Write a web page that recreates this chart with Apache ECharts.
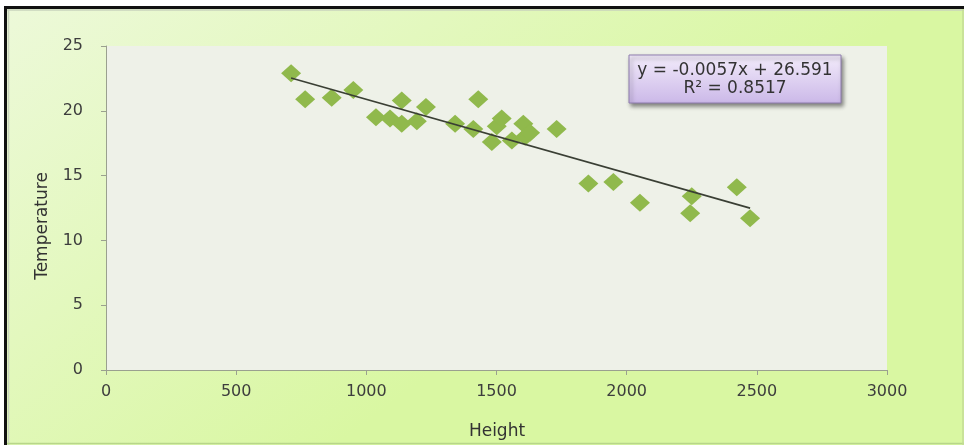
<!DOCTYPE html>
<html>
<head>
<meta charset="utf-8">
<title>Temperature vs Height</title>
<script src="https://cdn.jsdelivr.net/npm/echarts@6/dist/echarts.min.js"></script>
<style>
  html, body { margin: 0; padding: 0; background: #ffffff; }
  #chart { width: 964px; height: 445px; }
</style>
</head>
<body>
<div id="chart"></div>
<script>
// Observed heights and temperatures
const heights = [711, 765, 867, 950, 1037, 1091, 1136, 1136, 1194, 1229, 1341, 1411, 1430, 1482,
                 1501, 1520, 1559, 1603, 1610, 1629, 1731, 1853, 1949, 2051, 2244, 2250, 2423, 2474];
const temperatures = [22.9, 20.9, 21.0, 21.6, 19.5, 19.4, 20.8, 19.0, 19.2, 20.3, 19.0, 18.6, 20.9, 17.6,
                      18.8, 19.4, 17.7, 19.0, 18.0, 18.3, 18.6, 14.4, 14.5, 12.9, 12.1, 13.4, 14.1, 11.7];

// Linear trendline fit
const slope = -0.0057;
const intercept = 26.591;
const rSquared = 0.8517;

// Axis ranges
const xAxisRange = { min: 0, max: 3000, interval: 500 };
const yAxisRange = { min: 0, max: 25, interval: 5 };

const points = heights.map((h, i) => [h, temperatures[i]]);
const xFirst = Math.min(...heights);
const xLast = Math.max(...heights);
const trend = [[xFirst, slope * xFirst + intercept], [xLast, slope * xLast + intercept]];

const FONT = 'DejaVu Sans';
const chart = echarts.init(document.getElementById('chart'));

chart.setOption({
  animation: false,
  backgroundColor: new echarts.graphic.LinearGradient(0, 0, 0.35, 1, [
    { offset: 0, color: '#edf9da' },
    { offset: 1, color: '#d9f7a2' }
  ]),
  grid: {
    left: 106, right: 77, top: 46, bottom: 75,
    show: true, backgroundColor: '#eef1e8', borderWidth: 0
  },
  xAxis: {
    type: 'value',
    min: xAxisRange.min, max: xAxisRange.max, interval: xAxisRange.interval,
    splitLine: { show: false },
    axisLine: { show: true, onZero: false, lineStyle: { color: '#9aa08f', width: 1 } },
    axisTick: { show: true, length: 5, lineStyle: { color: '#9aa08f' } },
    axisLabel: { color: '#3d3d3d', fontFamily: FONT, fontSize: 16, margin: 14, formatter: v => String(v) }
  },
  yAxis: {
    type: 'value',
    min: yAxisRange.min, max: yAxisRange.max, interval: yAxisRange.interval,
    splitLine: { show: false },
    axisLine: { show: true, lineStyle: { color: '#9aa08f', width: 1 } },
    axisTick: { show: true, length: 5, lineStyle: { color: '#9aa08f' } },
    axisLabel: { color: '#3d3d3d', fontFamily: FONT, fontSize: 16, margin: 23, formatter: v => String(v) }
  },
  series: [
    {
      name: 'Temperature',
      type: 'scatter',
      data: points,
      symbol: 'diamond',
      symbolSize: [20, 18],
      itemStyle: { color: '#90b94c', opacity: 1 },
      z: 3
    },
    {
      name: 'Linear trend',
      type: 'line',
      data: trend,
      symbol: 'none',
      lineStyle: { color: '#3a3f34', width: 1.6 },
      z: 4
    }
  ],
  graphic: [
    // white margin and dark frame on the top and left edges
    { type: 'rect', shape: { x: 0, y: 0, width: 964, height: 6 }, style: { fill: '#ffffff' }, z: 50 },
    { type: 'rect', shape: { x: 0, y: 0, width: 4, height: 445 }, style: { fill: '#ffffff' }, z: 50 },
    { type: 'line', shape: { x1: 4, y1: 7.5, x2: 964, y2: 7.5 }, style: { stroke: '#111111', lineWidth: 3 }, z: 51 },
    { type: 'line', shape: { x1: 5.5, y1: 6, x2: 5.5, y2: 445 }, style: { stroke: '#111111', lineWidth: 3 }, z: 51 },
    { type: 'line', shape: { x1: 7, y1: 10, x2: 964, y2: 10 }, style: { stroke: '#c9d3bd', lineWidth: 1.5 }, z: 51 },
    { type: 'line', shape: { x1: 8.5, y1: 9, x2: 8.5, y2: 445 }, style: { stroke: '#c9d3bd', lineWidth: 1.5 }, z: 51 },
    { type: 'line', shape: { x1: 7, y1: 443.5, x2: 964, y2: 443.5 }, style: { stroke: '#b8d68a', lineWidth: 1.5 }, z: 51 },
    { type: 'line', shape: { x1: 963, y1: 9, x2: 963, y2: 445 }, style: { stroke: '#c3dd96', lineWidth: 1.5 }, z: 51 },
    // axis titles
    {
      type: 'text', x: 43, y: 226, rotation: Math.PI / 2, z: 60,
      style: { text: 'Temperature', fill: '#333333', font: '17px "DejaVu Sans"', align: 'center', verticalAlign: 'middle' }
    },
    {
      type: 'text', x: 497, y: 432, z: 60,
      style: { text: 'Height', fill: '#333333', font: '17px "DejaVu Sans"', align: 'center', verticalAlign: 'middle' }
    },
    // trendline equation box
    {
      type: 'group', x: 629, y: 55, z: 100,
      children: [
        {
          type: 'rect',
          shape: { x: 0, y: 0, width: 212, height: 48 },
          style: {
            fill: new echarts.graphic.LinearGradient(0, 0, 0, 1, [
              { offset: 0, color: '#f3ecfb' },
              { offset: 1, color: '#cbb8e8' }
            ]),
            stroke: '#8e7cae', lineWidth: 1,
            shadowBlur: 4, shadowOffsetX: 2, shadowOffsetY: 3, shadowColor: 'rgba(0,0,0,0.45)'
          }
        },
        {
          type: 'text', x: 106, y: 16,
          style: {
            text: 'y = ' + slope.toFixed(4) + 'x + ' + intercept.toFixed(3),
            fill: '#333333', font: '17px "DejaVu Sans"', align: 'center', verticalAlign: 'middle'
          }
        },
        {
          type: 'text', x: 106, y: 34,
          style: {
            text: 'R\u00b2 = ' + rSquared.toFixed(4),
            fill: '#333333', font: '17px "DejaVu Sans"', align: 'center', verticalAlign: 'middle'
          }
        }
      ]
    }
  ]
});
</script>
</body>
</html>
